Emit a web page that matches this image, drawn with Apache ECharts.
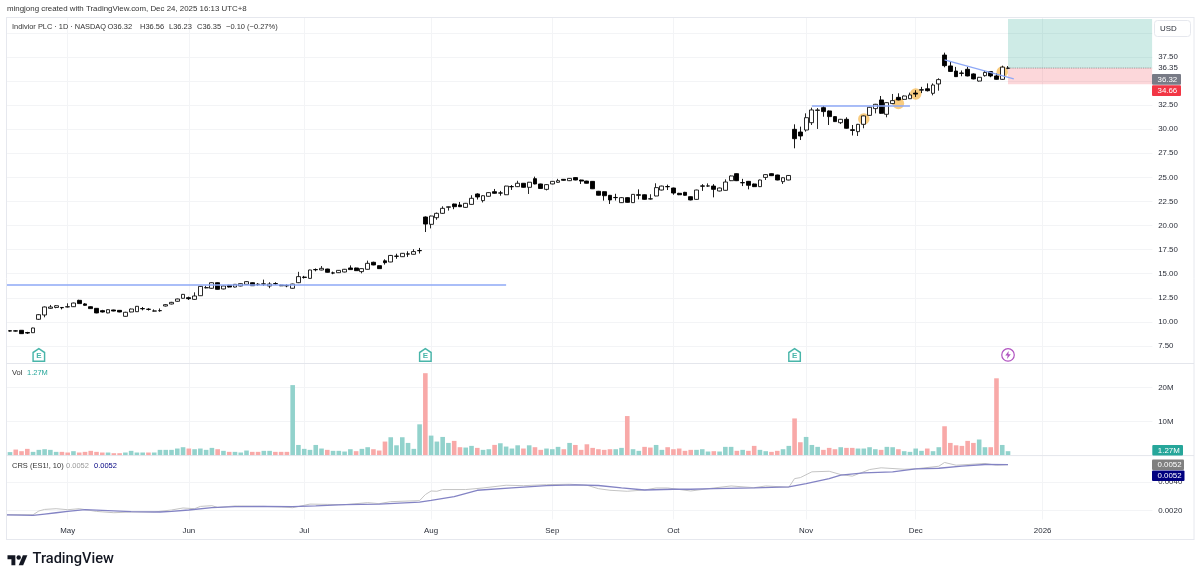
<!DOCTYPE html>
<html><head><meta charset="utf-8">
<style>html,body{margin:0;padding:0;background:#fff}#c{width:1200px;height:579px}</style>
<script src="https://cdn.jsdelivr.net/npm/echarts@6/dist/echarts.min.js"></script>
</head><body><div id="c"></div>
<script>
const tradingDays={'2025-04':[16,17,21,22,23,24,25,28,29,30],
'2025-05':[1,2,5,6,7,8,9,12,13,14,15,16,19,20,21,22,23,27,28,29,30],
'2025-06':[2,3,4,5,6,9,10,11,12,13,16,17,18,20,23,24,25,26,27,30],
'2025-07':[1,2,3,7,8,9,10,11,14,15,16,17,18,21,22,23,24,25,28,29,30,31],
'2025-08':[1,4,5,6,7,8,11,12,13,14,15,18,19,20,21,22,25,26,27,28,29],
'2025-09':[2,3,4,5,8,9,10,11,12,15,16,17,18,19,22,23,24,25,26,29,30],
'2025-10':[1,2,3,6,7,8,9,10,13,14,15,16,17,20,21,22,23,24,27,28,29,30,31],
'2025-11':[3,4,5,6,7,10,11,12,13,14,17,18,19,20,21,24,25,26,28],
'2025-12':[1,2,3,4,5,8,9,10,11,12,15,16,17,18,19,22,23,24,26,29,30,31],
'2026-01':[2,5,6,7,8,9,12,13,14,15,16,20,21,22,23,26,27,28,29,30]};
const categories=Object.keys(tradingDays).flatMap(m=>tradingDays[m].map(d=>m+'-'+String(d).padStart(2,'0')));
const monthTicks={'2025-05-01':'May','2025-06-02':'Jun','2025-07-01':'Jul','2025-08-01':'Aug','2025-09-02':'Sep','2025-10-01':'Oct','2025-11-03':'Nov','2025-12-01':'Dec','2026-01-02':'2026'};
// [open, close, low, high]
const candles=[[9.08,9.05,9.0,9.14],[9.07,9.05,9.0,9.13],[9.13,8.78,8.76,9.15],[8.9,8.84,8.75,8.97],[8.88,9.37,8.86,9.4],[10.27,10.75,10.2,10.8],[10.72,11.55,10.48,11.6],[11.41,11.55,11.35,11.76],[11.5,11.68,11.42,11.75],[11.5,11.47,11.3,11.53],
[11.55,11.58,11.5,11.93],[11.58,11.96,11.55,12.0],[12.24,11.9,11.88,12.3],[11.87,11.72,11.68,11.95],[11.58,11.38,11.36,11.62],[11.41,10.93,10.9,11.44],[11.17,11.03,10.98,11.25],[10.93,11.27,10.9,11.3],[11.24,11.13,11.1,11.27],[11.2,11.03,11.0,11.23],
[10.58,11.0,10.55,11.05],[11.03,11.34,11.0,11.38],[11.06,11.62,11.03,11.65],[11.39,11.36,11.2,11.55],[11.32,11.3,11.18,11.42],[11.12,11.14,11.08,11.3],[11.16,11.18,11.05,11.4],[11.65,11.79,11.6,11.85],[11.86,12.03,11.82,12.08],[12.14,12.38,12.1,12.42],
[12.45,12.86,12.42,12.9],[12.52,12.41,12.28,12.62],[12.34,12.69,12.3,13.07],[12.72,13.69,12.7,13.72],[13.54,13.56,13.48,13.75],[13.49,14.07,13.45,14.1],[14.07,13.38,13.35,14.1],[13.42,13.73,13.38,13.78],[13.8,13.62,13.58,13.85],[13.62,13.9,13.58,13.93],
[13.73,13.97,13.7,14.0],[13.9,14.18,13.88,14.22],[14.07,13.76,13.73,14.1],[13.92,13.88,13.75,14.02],[13.93,13.95,13.73,14.39],[13.73,13.93,13.5,14.12],[13.98,13.96,13.85,14.12],[13.82,13.75,13.72,13.86],[13.78,13.74,13.6,13.9],[13.49,13.93,13.46,13.96],
[14.07,14.7,14.03,15.2],[14.65,14.62,14.5,14.78],[14.52,15.39,14.5,15.42],[15.44,15.41,15.25,15.55],[15.39,15.56,15.36,15.8],[15.49,15.15,15.12,15.52],[15.09,15.07,14.95,15.22],[15.11,15.35,15.08,15.38],[15.18,15.46,15.15,15.5],[15.6,15.43,15.4,15.87],
[15.6,15.32,15.3,15.63],[15.22,15.53,15.04,15.56],[15.46,16.08,15.43,16.36],[16.19,15.91,15.88,16.25],[15.84,15.53,15.5,15.87],[16.34,16.15,15.95,16.5],[16.22,16.9,16.2,16.95],[16.83,16.81,16.55,17.08],[16.77,17.12,16.74,17.15],[17.06,17.04,16.75,17.33],
[17.02,17.3,17.0,17.55],[17.41,17.39,17.1,17.68],[20.89,20.16,19.33,20.95],[20.13,20.99,19.71,21.03],[20.82,21.27,20.6,21.35],[21.27,21.79,21.22,22.0],[21.9,21.95,21.55,21.98],[22.24,21.96,21.7,22.28],[22.14,21.96,21.92,22.45],[21.89,22.31,21.85,22.35],
[22.2,22.83,22.17,23.15],[23.28,22.97,22.7,23.35],[22.59,23.1,22.4,23.15],[23.04,23.42,23.0,23.45],[23.52,23.35,23.3,23.8],[23.39,23.37,23.1,23.6],[23.2,24.1,23.17,24.13],[24.05,24.03,23.7,24.2],[24.04,24.39,24.0,24.65],[24.39,23.97,23.94,24.42],
[23.97,24.5,23.28,24.53],[24.87,24.32,24.28,25.08],[24.32,23.85,23.82,24.35],[23.76,24.25,23.65,24.3],[24.32,24.59,24.28,24.62],[24.49,24.66,24.45,24.85],[24.8,24.7,24.66,24.83],[24.66,24.9,24.62,24.93],[24.98,24.73,24.7,25.02],[24.73,24.62,24.32,24.76],
[24.62,24.39,24.36,24.65],[24.59,23.82,23.79,24.62],[23.56,23.15,23.12,23.6],[23.52,23.1,22.59,23.55],[23.14,22.66,22.24,23.18],[22.92,22.9,22.6,23.3],[22.38,22.9,22.35,22.95],[22.9,22.41,22.38,22.95],[22.38,23.24,22.35,23.27],[23.2,23.15,22.72,23.76],
[23.2,22.72,22.68,23.24],[22.76,22.78,22.7,23.25],[23.07,23.94,23.04,24.39],[23.69,24.1,23.65,24.14],[24.05,24.03,23.69,24.25],[23.9,23.38,23.2,23.94],[23.35,23.2,23.16,23.4],[23.45,23.14,23.1,23.5],[23.0,22.66,22.62,23.04],[22.72,23.69,22.69,23.72],
[24.12,24.09,23.6,24.3],[24.1,24.12,24.02,24.38],[24.1,23.76,22.93,24.3],[23.59,23.9,23.55,23.94],[23.66,24.52,23.63,24.8],[24.66,25.15,24.62,25.19],[25.39,24.66,24.62,25.43],[24.46,24.44,24.1,24.85],[24.59,24.18,23.76,24.63],[24.32,24.04,24.0,24.36],
[24.04,24.73,24.0,24.77],[25.0,25.29,24.73,25.33],[25.39,25.18,25.14,25.43],[25.25,24.73,24.7,25.28],[24.56,24.97,24.32,25.0],[24.73,25.2,24.7,25.24],[29.99,29.02,28.02,30.51],[29.71,29.3,28.88,30.27],[29.92,31.2,29.75,31.65],[30.68,32.0,30.44,32.24],
[31.95,32.0,30.03,32.2],[32.24,31.83,31.3,32.41],[31.9,31.31,30.44,31.95],[31.31,30.79,30.75,31.35],[30.68,31.03,30.54,31.07],[31.03,30.1,30.06,31.24],[29.95,29.88,29.35,30.44],[29.75,30.51,29.3,30.55],[30.51,31.38,30.1,31.42],[31.44,32.28,31.4,32.32],
[32.14,32.59,31.65,32.63],[33.04,31.65,31.6,33.45],[31.55,32.76,31.24,32.8],[32.66,32.97,32.6,33.66],[33.31,33.04,33.0,33.73],[33.1,33.45,33.05,33.5],[33.17,33.56,33.13,33.8],[33.75,33.65,33.35,34.05],[34.1,34.06,33.75,34.4],[34.2,34.0,33.92,34.76],
[33.73,34.59,33.52,34.76],[34.7,35.15,34.0,35.29],[37.7,36.6,36.43,37.95],[36.57,36.0,35.96,37.0],[36.04,35.46,35.42,36.47],[35.84,35.8,35.5,36.1],[36.22,35.53,35.49,36.47],[35.74,35.22,35.18,35.8],[35.0,35.39,34.95,35.43],[35.56,35.9,35.46,36.07],
[35.98,35.53,35.4,36.02],[35.53,35.18,35.14,35.8],[35.18,36.45,35.14,36.6],[36.32,36.35,36.23,36.56]];
// millions
const volume=[1.0,1.75,1.27,1.95,1.07,1.66,1.85,1.66,1.07,1.07,.88,1.27,.88,1.07,1.37,1.07,.88,.88,.68,.68,
.88,1.37,.88,.88,.88,.88,1.66,1.66,1.66,2.05,2.44,2.05,1.85,2.05,1.66,2.24,1.85,1.37,1.07,1.07,
.88,1.46,1.07,1.07,1.37,1.37,1.07,1.07,1.07,20.7,3.1,1.95,1.66,3.1,2.05,1.66,1.37,1.37,1.17,1.85,
1.27,1.95,2.44,1.85,1.46,4.1,5.37,3.0,5.37,3.7,1.95,9.17,24.2,5.85,4.1,5.46,3.7,4.3,2.44,2.34,
2.83,2.24,1.66,1.85,3.12,3.6,2.63,2.05,3.0,2.05,3.0,2.44,1.66,2.05,1.85,2.54,1.85,3.7,3.1,1.66,
3.3,2.24,1.85,1.66,1.85,1.85,2.24,11.6,1.85,1.37,2.54,2.34,3.1,1.66,2.44,1.85,2.05,1.37,1.66,1.66,
1.85,1.17,1.27,1.17,2.54,2.54,1.37,1.66,1.37,2.83,1.66,1.27,1.07,1.37,1.85,2.83,10.9,3.9,5.46,3.1,
2.54,1.66,2.24,1.85,2.44,2.24,2.24,2.05,2.05,2.44,1.85,1.66,2.54,2.44,1.85,1.27,1.07,2.05,1.37,2.05,
1.27,2.44,8.6,3.7,3.0,2.83,4.3,3.7,4.7,2.44,2.44,22.7,3.1,1.27];
// 1 = teal, 0 = red
const volumeUp=[1,0,0,0,1,1,1,1,1,0,0,1,0,0,0,0,0,1,0,0,
1,1,1,1,0,1,1,1,1,1,1,0,1,1,1,1,0,1,0,1,
1,1,0,0,1,1,0,0,0,1,1,1,1,1,1,0,1,1,1,1,
0,1,1,0,0,0,1,1,1,1,1,1,0,1,1,1,1,0,0,1,
1,0,1,1,0,1,1,1,1,0,1,0,0,1,1,1,0,1,0,0,
0,0,0,0,0,1,1,0,1,1,0,0,1,1,0,0,0,0,0,1,
1,1,0,1,1,1,0,1,0,0,1,1,0,0,1,1,0,0,1,1,
1,0,0,0,1,0,0,1,1,1,1,0,1,1,0,1,1,1,1,0,
1,1,0,0,0,0,0,0,1,1,0,0,1,1];
const crsRaw=[[-1,.00172],[4,.00172],[5,.00198],[6,.00209],[8,.00214],[10,.00207],[12,.00214],[15,.00195],[18,.00186],[21,.00191],[25,.00191],[28,.00205],[30,.00219],[32,.00214],[33,.0023],[35,.00235],[36,.00223],[39,.00233],[44,.0023],[47,.00226],[49,.00221],[52,.00246],[55,.00244],[58,.00242],[62,.00256],[64,.00249],[66,.00263],[71,.0027],[72,.00312],[73,.00337],[74,.00335],[75,.00347],[79,.00347],[82,.00358],[86,.00377],[89,.00374],[93,.00381],[97,.00384],[100,.00377],[102,.00353],[104,.00342],[107,.00335],[110,.00344],[112,.00358],[114,.00358],[118,.00337],[122,.00358],[125,.00372],[129,.0036],[131,.00372],[135,.00363],[136,.00423],[137,.0043],[139,.0047],[142,.00474],[144,.00451],[146,.0044],[149,.00486],[151,.00498],[155,.00488],[157,.00491],[161,.00509],[162,.00535],[164,.00516],[169,.00528],[171,.00516],[173,.0052]];
const crsMa=[[-1,.00172],[2,.0017],[4,.00167],[6,.00177],[8,.00186],[10,.00195],[13,.00207],[16,.00202],[21,.00193],[26,.00191],[28,.00195],[31,.00205],[35,.00221],[39,.00228],[44,.0023],[49,.00228],[53,.00233],[58,.00242],[64,.00246],[71,.0026],[73,.00272],[77,.00298],[81,.00342],[87,.00358],[93,.00374],[98,.00379],[102,.00375],[106,.00358],[110,.00344],[115,.00349],[118,.00349],[122,.00353],[129,.00358],[135,.00365],[138,.00388],[142,.00423],[144,.00447],[148,.00463],[153,.0047],[157,.00491],[161,.00495],[165,.00509],[169,.00521],[173,.0052]];
const trendLines=[[[-1,13.83],[86,13.83]],[[139,32.41],[156,32.41]],[[162,37.19],[174,35.22]]];
const highlightCircles=[[148,31.06],[153.5,32.67],[157,33.66],[172,35.94]];
const earningsMarks=[[5,6.57],[72,6.57],[136,6.57]];
const dividendMark=[[173,6.57]];
const position={entry:36.35,target:41.45,stop:34.66,startIdx:173,endIdx:198};
const priceTicks=[7.5,10,12.5,15,17.5,20,22.5,25,27.5,30,32.5,35,37.5,40];
const priceLabels=[7.5,10,12.5,15,17.5,20,22.5,25,27.5,30,32.5,36.35,37.5];
const volTicks=[10,20];
const crsTicks=[.002,.004];

const FONT='"Liberation Sans"';
const lab='#2a2e39', grid='#f3f4f6', border='#e6e8ee';
const gl=7.1, gw=1148.03, FS=7.9;
const xBase=(gi,extra)=>Object.assign({type:'category',gridIndex:gi,data:categories,boundaryGap:true,
  axisLine:{show:false},axisTick:{show:false},axisLabel:{show:false},
  splitLine:{show:true,alignWithLabel:true,interval:(i,v)=>v in monthTicks,lineStyle:{color:grid,width:1}}},extra||{});
const yBase=(gi,min,max,ticks,labels,fmt)=>({type:'value',gridIndex:gi,position:'right',min,max,scale:true,
  axisLine:{show:false},axisTick:{show:false,customValues:ticks},
  axisLabel:{show:true,customValues:labels,formatter:fmt,margin:3,color:lab,fontFamily:FONT,fontSize:FS,showMinLabel:true,showMaxLabel:true,hideOverlap:false},
  splitLine:{show:true,lineStyle:{color:grid,width:1}}});
const T=(x,y,text,fill,size,weight,fam)=>({type:'text',z:100,style:{x,y,text,fill:fill||lab,font:(weight||'normal')+' '+(size||FS)+'px '+(fam||FONT),textVerticalAlign:'middle'}});
const tag=(x,y,w,h,color,text,tx)=>[{type:'rect',z:98,shape:{x,y,width:w,height:h,r:1},style:{fill:color}},T(tx||x+5.5,y+h/2+.3,text,'#fff',FS)];
const L=(x1,y1,x2,y2,c)=>({type:'line',z:97,shape:{x1,y1,x2,y2},style:{stroke:c||border,lineWidth:1}});
const LOGO_S=.56, LOGO_X=7.5, LOGO_Y=553;
const logoPoly=p=>({type:'polygon',z:100,shape:{points:p.map(q=>[LOGO_X+q[0]*LOGO_S,LOGO_Y+q[1]*LOGO_S])},style:{fill:'#131722'}});

const graphic=[
 {type:'rect',z:96,shape:{x:1152.4,y:18,width:4,height:502},style:{fill:'#fff'}},
 L(6,17.5,1194,17.5),L(6,539.5,1194,539.5),L(6.5,17,6.5,540),L(1194,17,1194,540),
 L(6,363.5,1194,363.5,'#e4e6ec'),L(6,455.6,1194,455.6,'#e4e6ec'),
 T(7,9,'mingjong created with TradingView.com, Dec 24, 2025 16:13 UTC+8','#333',7.9),
 T(12,27,'Indivior PLC · 1D · NASDAQ','#333',7.4),T(107.5,27,'O36.32','#333',7.5),T(140,27,'H36.56','#333',7.5),T(169,27,'L36.23','#333',7.5),T(197,27,'C36.35','#333',7.5),T(226,27,'−0.10 (−0.27%)','#333',7.5),
 T(12,373,'Vol','#333',7.5),T(27,373,'1.27M','#26a69a',7.5),
 T(12,466,'CRS (ES1!, 10)','#333',7.5),T(66,466,'0.0052','#999',7.5),T(94,466,'0.0052','#000080',7.5),
 {type:'rect',z:98,shape:{x:1154.5,y:20.5,width:36,height:16,r:3},style:{fill:'#fff',stroke:'#e6e8ee',lineWidth:1}},
 T(1160,29,'USD',lab,FS),
 ...tag(1152,74,29,10.8,'#787b86','36.32'),
 ...tag(1152,85.2,29,10.8,'#f23645','34.66'),
 ...tag(1152.3,445,30.7,10.4,'#26a69a','1.27M'),
 ...tag(1152,459.4,32,10.6,'#808080','0.0052'),
 ...tag(1152,470.4,32.5,10.6,'#000080','0.0052'),
 logoPoly([[14,4],[0,4],[0,11],[7,11],[7,22],[14,22]]),
 logoPoly([[20,22],[27.5,4],[35.5,4],[28,22]]),
 {type:'circle',z:100,shape:{cx:LOGO_X+20*LOGO_S,cy:LOGO_Y+8*LOGO_S,r:4*LOGO_S},style:{fill:'#131722'}},
 T(32.5,559.5,'TradingView','#131722',14.6,'500','Roboto')
];

const houseSym='path://M6 0L12 4V13H0V4Z';
const boltSym='path://M6 0L1 7H4.5L3.5 12L9 5H5.5Z';
const option={
 animation:false,backgroundColor:'#fff',
 grid:[{left:gl,width:gw,top:17,height:346,containLabel:false},{left:gl,width:gw,top:363.5,height:92},{left:gl,width:gw,top:456,height:63.5}],
 xAxis:[xBase(0),xBase(1),xBase(2,{axisLabel:{show:true,interval:(i,v)=>v in monthTicks,formatter:v=>monthTicks[v]||'',margin:7,
    color:lab,fontFamily:FONT,fontSize:FS,hideOverlap:false}})],
 yAxis:[yBase(0,5.735,41.65,priceTicks,priceLabels,v=>v.toFixed(2)),
        yBase(1,0,27.05,volTicks,volTicks,v=>v+'M'),
        yBase(2,.00139,.0058,crsTicks,crsTicks,v=>v.toFixed(4))],
 graphic,
 series:[
  {type:'scatter',name:'highlights',xAxisIndex:0,yAxisIndex:0,z:1,data:highlightCircles,symbolSize:11.5,silent:true,itemStyle:{color:'rgba(245,166,35,.72)'}},
  {type:'candlestick',name:'Indivior',xAxisIndex:0,yAxisIndex:0,z:3,data:candles,barWidth:4.3,clip:false,
   itemStyle:{color:'#ffffff',color0:'#000000',borderColor:'#111',borderColor0:'#000',borderWidth:.9},
   markArea:{silent:true,z:0,data:[
     [{xAxis:categories[position.startIdx],yAxis:position.target,itemStyle:{color:'rgba(8,153,129,.2)'}},{xAxis:categories[position.endIdx],yAxis:position.entry}],
     [{xAxis:categories[position.startIdx],yAxis:position.entry,itemStyle:{color:'rgba(242,54,69,.2)'}},{xAxis:categories[position.endIdx],yAxis:position.stop}]]}},
  {type:'line',name:'entry',xAxisIndex:0,yAxisIndex:0,z:2,data:[[position.startIdx,position.entry],[position.endIdx,position.entry]],symbol:'none',lineStyle:{color:'#888',width:.9,type:'dotted'}},
  ...trendLines.map(d=>({type:'line',xAxisIndex:0,yAxisIndex:0,z:4,data:d,symbol:'none',lineStyle:{color:'#8ea8f6',width:1.3}})),
  {type:'scatter',name:'earnings',xAxisIndex:0,yAxisIndex:0,z:5,data:earningsMarks,symbol:houseSym,symbolSize:[11.5,12.5],
   itemStyle:{color:'#fff',borderColor:'#1aa394',borderWidth:1.5},
   label:{show:true,formatter:'E',position:'inside',offset:[0,1],color:'#1aa394',fontSize:8,fontWeight:'bold',fontFamily:FONT}},
  {type:'scatter',name:'dividend',xAxisIndex:0,yAxisIndex:0,z:5,data:dividendMark,symbol:'circle',symbolSize:12.5,
   itemStyle:{color:'#fff',borderColor:'#9c27b0',borderWidth:1.2}},
  {type:'scatter',name:'dividendBolt',xAxisIndex:0,yAxisIndex:0,z:6,data:dividendMark,symbol:boltSym,symbolSize:[5.5,8],
   itemStyle:{color:'#9c27b0'}},
  {type:'bar',name:'Vol',xAxisIndex:1,yAxisIndex:1,barWidth:4.6,
   data:volume.map((v,i)=>({value:v,itemStyle:{color:volumeUp[i]?'#92d2cc':'#f8a9a8'}}))},
  {type:'line',name:'CRS',xAxisIndex:2,yAxisIndex:2,z:2,data:crsRaw,symbol:'none',lineStyle:{color:'#c4c4c4',width:1}},
  {type:'line',name:'CRS MA',xAxisIndex:2,yAxisIndex:2,z:3,data:crsMa,symbol:'none',lineStyle:{color:'#8383c4',width:1.3}}
 ]
};
const chart=echarts.init(document.getElementById('c'),null,{renderer:'canvas',width:1200,height:579});
chart.setOption(option);
</script></body></html>
